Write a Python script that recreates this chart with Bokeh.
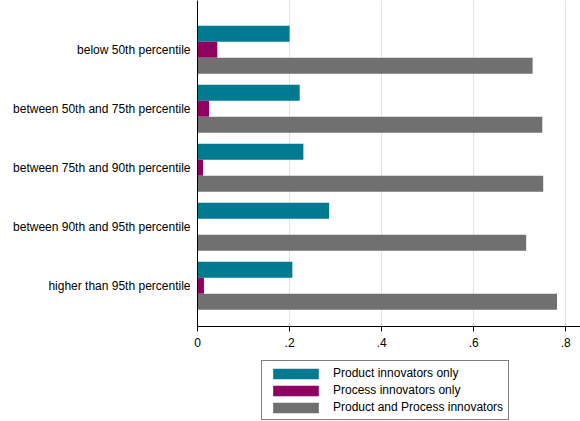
from bokeh.plotting import figure
from bokeh.layouts import column
from bokeh.models import Range1d, FixedTicker, Legend, LegendItem, CustomJSTickFormatter, ColumnDataSource
from bokeh.embed import file_html
from bokeh.resources import INLINE

categories = ["below 50th percentile", "between 50th and 75th percentile",
              "between 75th and 90th percentile", "between 90th and 95th percentile",
              "higher than 95th percentile"]
product_only = [0.200, 0.222, 0.230, 0.286, 0.206]
process_only = [0.043, 0.025, 0.012, 0.0, 0.014]
both = [0.728, 0.749, 0.751, 0.714, 0.781]
series_names = ["Product innovators only", "Process innovators only", "Product and Process innovators"]
x_ticks = [0, 0.2, 0.4, 0.6, 0.8]

colors = ["#007A91", "#8F0061", "#707070"]
FONT = "Liberation Sans"

H1 = 356
p = figure(width=580, height=H1, output_backend="svg", toolbar_location=None,
           x_range=Range1d(0, 0.832), y_range=Range1d(4.692, -0.834),
           min_border_left=197, min_border_right=0, min_border_top=0, min_border_bottom=30)
p.outline_line_color = None
p.background_fill_color = "white"
p.border_fill_color = "white"

bh = 0.271
ypos = list(range(len(categories)))
for i, (vals, col) in enumerate(zip([product_only, process_only, both], colors)):
    off = (i - 1) * bh
    src = ColumnDataSource(dict(y=[y + off for y in ypos], right=vals))
    p.hbar(y="y", left=0, right="right", height=bh, source=src, fill_color=col, line_color=None)

# x axis
p.xaxis.ticker = FixedTicker(ticks=x_ticks)
p.xaxis.formatter = CustomJSTickFormatter(code="""
  if (Math.abs(tick) < 1e-9) return '0';
  return tick.toFixed(1).replace(/^0/, '');
""")
p.xaxis.major_tick_out = 5
p.xaxis.major_tick_in = 0
p.xaxis.minor_tick_line_color = None
p.xaxis.axis_line_color = "black"
p.xaxis.major_tick_line_color = "black"
p.xaxis.major_label_text_font = FONT
p.xaxis.major_label_text_font_size = "12px"
p.xaxis.major_label_text_color = "black"
p.xaxis.major_label_standoff = 6

# y axis
p.yaxis.ticker = FixedTicker(ticks=ypos)
p.yaxis.major_label_overrides = {i: c for i, c in enumerate(categories)}
p.yaxis.major_tick_line_color = None
p.yaxis.minor_tick_line_color = None
p.yaxis.major_tick_out = 0
p.yaxis.major_tick_in = 0
p.yaxis.axis_line_color = "black"
p.yaxis.major_label_text_font = FONT
p.yaxis.major_label_text_font_size = "12px"
p.yaxis.major_label_text_color = "black"
p.yaxis.major_label_standoff = 7

p.ygrid.grid_line_color = None
p.xgrid.grid_line_color = "#e3e3e3"
p.xgrid.grid_line_width = 1

# legend figure
H2 = 421 - H1
q = figure(width=580, height=H2, output_backend="svg", toolbar_location=None,
           x_range=Range1d(0, 1), y_range=Range1d(0, 1),
           x_axis_location=None, y_axis_location=None,
           min_border_left=0, min_border_right=0, min_border_top=0, min_border_bottom=0)
q.outline_line_color = None
q.xgrid.grid_line_color = None
q.ygrid.grid_line_color = None
items = []
for name, col in zip(series_names, colors):
    r = q.hbar(y=[5], left=[5], right=[6], height=0.1, fill_color=col, line_color=None)
    items.append(LegendItem(label=name, renderers=[r]))

legend = Legend(items=items, location=(64, 1), orientation="vertical")
legend.glyph_width = 57
legend.glyph_height = 13
legend.label_standoff = 9
legend.spacing = 3
legend.padding = 5
legend.margin = 0
legend.label_text_font = FONT
legend.label_text_font_size = "12px"
legend.label_text_color = "black"
legend.label_height = 13
legend.border_line_color = "black"
legend.border_line_width = 1
legend.background_fill_alpha = 1
q.add_layout(legend)

layout = column(p, q, spacing=0)
open("out.html", "w").write(file_html(layout, INLINE))
